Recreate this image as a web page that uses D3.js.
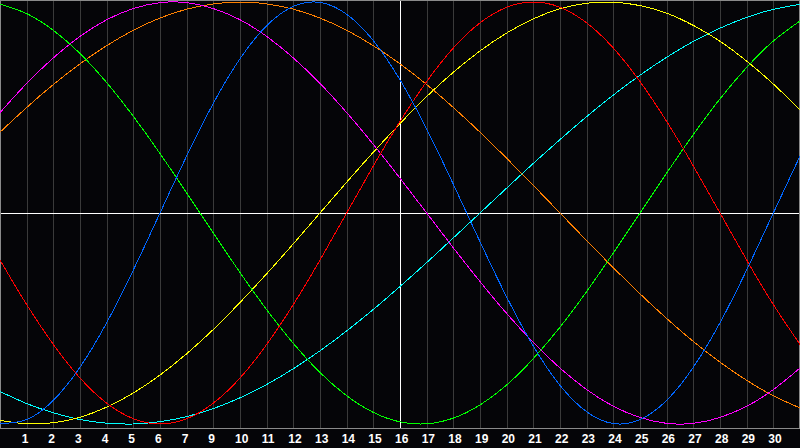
<!DOCTYPE html>
<html>
<head>
<meta charset="utf-8">
<script src="https://cdn.jsdelivr.net/npm/d3@7"></script>
<style>
  html, body { margin: 0; padding: 0; background: #050508; overflow: hidden; }
  svg { display: block; }
</style>
</head>
<body>
<script>
// day labels under the grid lines (the source skips 8)
let dayLabels = [1, 2, 3, 4, 5, 6, 7, 9, 10, 11, 12, 13, 14, 15, 16, 17, 18, 19, 20, 21, 22, 23, 24, 25, 26, 27, 28, 29, 30]
let todayIndex = 15

// one value per grid step, 0..30 (percent of amplitude)
let blueSeries = [-99.8, -97.9, -88.8, -73.1, -52.0, -27.0, 0, 27.0, 52.0, 73.1, 88.8, 97.9, 99.8, 94.2, 81.7, 63.1, 39.8, 13.6, -13.6, -39.8, -63.1, -81.7, -94.2, -99.8, -97.9, -88.8, -73.1, -52.0, -27.0, 0, 27.0]
let redSeries = [-22.3, -43.4, -62.3, -78.2, -90.1, -97.5, -100, -97.5, -90.1, -78.2, -62.3, -43.4, -22.3, 0, 22.3, 43.4, 62.3, 78.2, 90.1, 97.5, 100, 97.5, 90.1, 78.2, 62.3, 43.4, 22.3, 0, -22.3, -43.4, -62.3]
let greenSeries = [99.0, 94.5, 86.6, 75.6, 61.8, 45.8, 28.2, 9.5, -9.5, -28.2, -45.8, -61.8, -75.6, -86.6, -94.5, -99.0, -99.9, -97.2, -91.0, -81.5, -69.0, -54.1, -37.2, -18.9, 0, 18.9, 37.2, 54.1, 69.0, 81.5, 91.0]
let magentaSeries = [47.6, 61.4, 73.5, 83.7, 91.6, 96.9, 99.7, 99.7, 96.9, 91.6, 83.7, 73.5, 61.4, 47.6, 32.5, 16.5, 0, -16.5, -32.5, -47.6, -61.4, -73.5, -83.7, -91.6, -96.9, -99.7, -99.7, -96.9, -91.6, -83.7, -73.5]
let yellowSeries = [-98.3, -99.9, -99.4, -96.8, -92.0, -85.3, -76.8, -66.7, -55.2, -42.4, -28.8, -14.6, 0, 14.6, 28.8, 42.4, 55.2, 66.7, 76.8, 85.3, 92.0, 96.8, 99.4, 99.9, 98.3, 94.7, 88.9, 81.4, 72.0, 61.1, 48.9]
let orangeSeries = [38.3, 50.0, 60.9, 70.7, 79.3, 86.6, 92.4, 96.6, 99.1, 100, 99.1, 96.6, 92.4, 86.6, 79.3, 70.7, 60.9, 50.0, 38.3, 25.9, 13.1, 0, -13.1, -25.9, -38.3, -50.0, -60.9, -70.7, -79.3, -86.6, -92.4]
let cyanSeries = [-84.6, -90.3, -94.7, -97.9, -99.6, -100.0, -98.9, -96.5, -92.7, -87.6, -81.3, -73.8, -65.3, -55.9, -45.7, -34.8, -23.5, -11.8, 0, 11.8, 23.5, 34.8, 45.7, 55.9, 65.3, 73.8, 81.3, 87.6, 92.7, 96.5, 98.9]

let width = 800
let height = 448
let plot_bottom = 428
let bg_color = '#050508'
let grid_color = '#3a3a3a'
let frame_color = '#8a8a8a'

let series = [
    {values: cyanSeries, color: '#00ffff'},
    {values: yellowSeries, color: '#ffff00'},
    {values: orangeSeries, color: '#ff8000'},
    {values: magentaSeries, color: '#ff00ff'},
    {values: greenSeries, color: '#00ff00'},
    {values: redSeries, color: '#ff0000'},
    {values: blueSeries, color: '#0066ff'}
]

let x = d3.scaleLinear().domain([0, 30]).range([0, width])
let y = d3.scaleLinear().domain([-100, 100]).range([424, 2])

let svg = d3.select('body')
    .append('svg')
    .attr('width', width)
    .attr('height', height)

svg.append('rect')
    .attr('width', width)
    .attr('height', height)
    .attr('fill', bg_color)

// vertical day lines
let gridIdx = d3.range(1, 30)
svg.selectAll('line.grid')
    .data(gridIdx)
    .enter()
    .append('line')
    .attr('class', 'grid')
    .attr('x1', d => Math.round(x(d)) + .5)
    .attr('x2', d => Math.round(x(d)) + .5)
    .attr('y1', 0)
    .attr('y2', plot_bottom)
    .attr('stroke', d => d === todayIndex ? '#ffffff' : grid_color)
    .attr('stroke-width', 1)
    .attr('shape-rendering', 'crispEdges')

// zero line
svg.append('line')
    .attr('x1', 0)
    .attr('x2', width)
    .attr('y1', Math.round(y(0)) + .5)
    .attr('y2', Math.round(y(0)) + .5)
    .attr('stroke', '#ffffff')
    .attr('stroke-width', 1)
    .attr('shape-rendering', 'crispEdges')

// frame
svg.append('rect')
    .attr('x', .5)
    .attr('y', .5)
    .attr('width', width - 1)
    .attr('height', plot_bottom - .5)
    .attr('fill', 'none')
    .attr('stroke', frame_color)
    .attr('stroke-width', 1)
    .attr('shape-rendering', 'crispEdges')

let line = d3.line()
    .x((d, i) => x(i))
    .y(d => y(d))
    .curve(d3.curveNatural)

svg.selectAll('path.cycle')
    .data(series)
    .enter()
    .append('path')
    .attr('class', 'cycle')
    .attr('d', d => line(d.values))
    .attr('fill', 'none')
    .attr('stroke', d => d.color)
    .attr('stroke-width', 1)
    .attr('shape-rendering', 'optimizeSpeed')

// day labels
svg.selectAll('text.day')
    .data(dayLabels)
    .enter()
    .append('text')
    .attr('class', 'day')
    .attr('x', (d, i) => x(i + 1) - 5)
    .attr('y', 443)
    .attr('fill', '#ffffff')
    .attr('font-family', 'Liberation Sans, Arial, sans-serif')
    .attr('font-weight', 'bold')
    .attr('font-size', 12)
    .text(d => d)
</script>
</body>
</html>
